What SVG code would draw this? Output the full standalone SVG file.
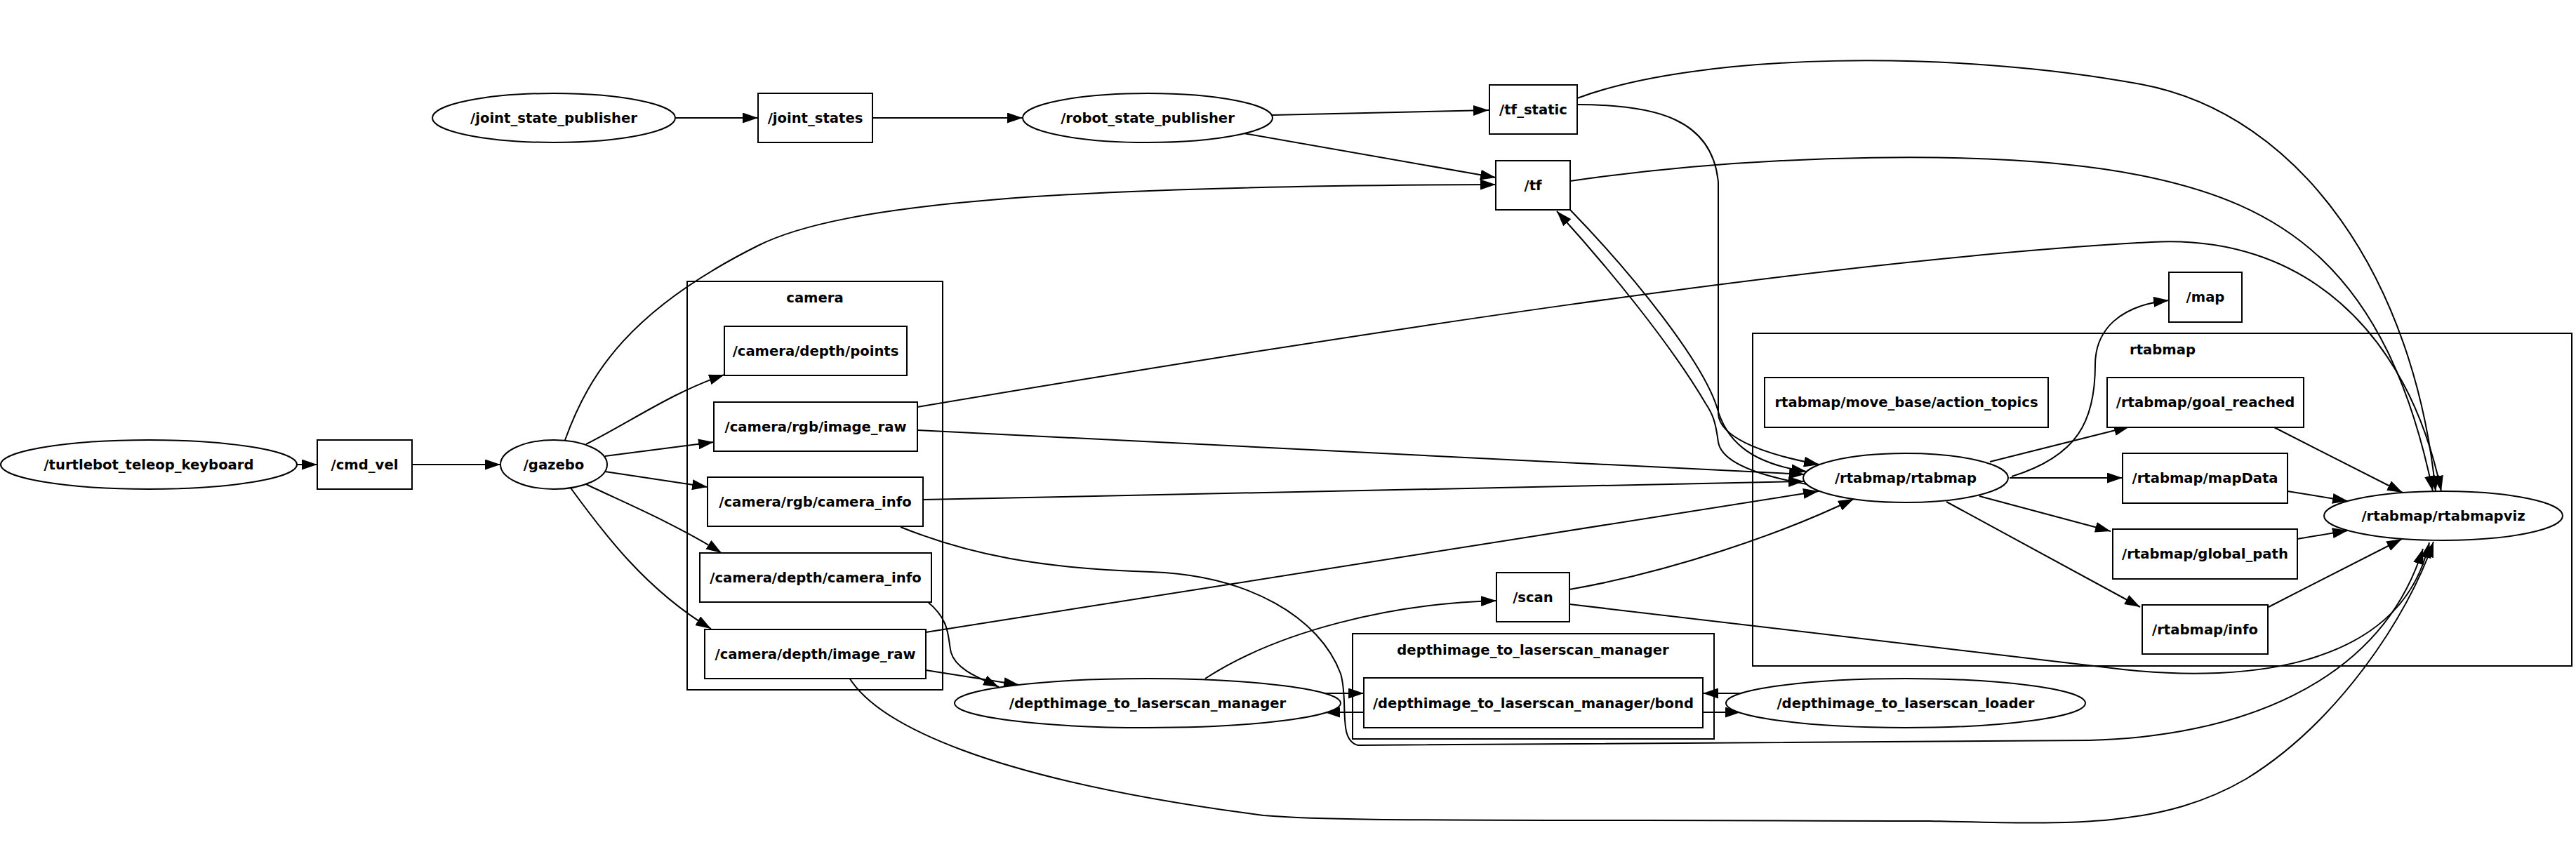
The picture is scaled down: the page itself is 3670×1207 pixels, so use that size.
<svg xmlns="http://www.w3.org/2000/svg" width="3670" height="1207" viewBox="0 0 3670 1207">
<defs>
<style>
.bg{fill:#fff}
.cl{fill:none;stroke:#000;stroke-width:2}
.nd{fill:#fff;stroke:#000;stroke-width:2}
.t{font-family:"DejaVu Sans",Verdana,sans-serif;font-weight:bold;font-size:19.6px;fill:#000;text-anchor:middle}
.e{fill:none;stroke:#000;stroke-width:2;marker-end:url(#ah)}
</style>
<marker id="ah" viewBox="0 0 22 15" refX="22" refY="7.5" markerUnits="userSpaceOnUse" markerWidth="22" markerHeight="15" orient="auto">
<path d="M0,0 L22,7.5 L0,15 z" fill="#000"/>
</marker>
</defs>
<rect class="bg" x="0" y="0" width="3670" height="1207"/>

<g id="clusters">
<g id="cluster_camera"><rect class="cl" x="979" y="401" width="364" height="582"/><text class="t" x="1161" y="431">camera</text></g>
<g id="cluster_dtl"><rect class="cl" x="1927" y="903" width="515" height="150"/><text class="t" x="2184" y="933">depthimage_to_laserscan_manager</text></g>
<g id="cluster_rtabmap"><rect class="cl" x="2497" y="475" width="1167" height="474"/><text class="t" x="3081" y="505">rtabmap</text></g>
</g>

<g id="connectors">
<path class="e" d="M423,662 L452,662"/>
<path class="e" d="M587,662 L713,662"/>
<path class="e" d="M962,168 L1080,168"/>
<path class="e" d="M1243,168 L1457,168"/>
<path class="e" d="M1812,164 L2121,157"/>
<path class="e" d="M1772,190 L2131,253"/>
<path class="e" d="M805,627 C840,530 900,440 1080,350 C1200,290 1500,265 2131,263"/>
<path class="e" d="M835,633 C900,600 960,558 1032,534"/>
<path class="e" d="M862,650 L1017,630"/>
<path class="e" d="M862,672 L1008,694"/>
<path class="e" d="M835,690 C880,712 960,745 1028,788"/>
<path class="e" d="M812,694 C860,760 920,840 1013,896"/>
<path class="e" d="M1307,613 L2571,676"/>
<path class="e" d="M1315,712 L2570,686"/>
<path class="e" d="M1319,901 L2591,700"/>
<path class="e" d="M1307,580 C1900,480 2600,370 3065,345 C3280,333 3430,470 3478,700"/>
<path class="e" d="M1283,751 C1380,790 1480,810 1640,815 C1780,820 1880,880 1910,960 C1922,1000 1905,1055 1935,1062 L2976,1055 C3180,1050 3390,980 3452,782"/>
<path class="e" d="M1322,858 C1355,885 1350,910 1355,930 C1362,955 1400,968 1423,979"/>
<path class="e" d="M1319,955 L1452,976"/>
<path class="e" d="M1210,966 C1250,1030 1400,1110 1800,1162 C1900,1170 2000,1168 2750,1170 C2950,1175 3080,1180 3200,1110 C3330,1030 3430,880 3467,772"/>
<path class="e" d="M1717,967 C1820,900 1980,860 2132,856"/>
<path class="e" d="M2236,840 C2380,815 2540,760 2641,711"/>
<path class="e" d="M2236,861 L3000,951 C3180,975 3420,960 3461,773"/>
<path class="e" d="M1887,988 L1943,988"/>
<path class="e" d="M1943,1015 L1887,1015"/>
<path class="e" d="M2480,988 L2426,988"/>
<path class="e" d="M2426,1015 L2480,1015"/>
<path class="e" d="M2237,299 C2330,395 2425,515 2446,580 C2458,625 2490,660 2574,672"/>
<path class="e" d="M2574,690 C2490,675 2452,655 2448,630 C2444,600 2440,590 2430,575 C2380,490 2290,380 2218,301"/>
<path class="e" d="M2247,149 C2360,149 2440,170 2448,260 L2448,590 C2450,620 2500,645 2592,662"/>
<path class="e" d="M2247,140 C2420,75 2780,70 3050,120 C3280,163 3440,400 3470,700"/>
<path class="e" d="M2237,258 C2500,220 2850,210 3050,250 C3250,290 3400,380 3466,700"/>
<path class="e" d="M2866,679 C2960,650 2985,600 2985,520 C2985,470 3020,435 3090,428"/>
<path class="e" d="M2835,658 L3034,608"/>
<path class="e" d="M2863,681 L3024,681"/>
<path class="e" d="M2820,707 L3007,757"/>
<path class="e" d="M2773,715 L3049,865"/>
<path class="e" d="M3240,609 L3423,702"/>
<path class="e" d="M3259,700 L3345,714"/>
<path class="e" d="M3273,768 L3345,756"/>
<path class="e" d="M3232,865 C3300,830 3380,790 3422,768"/>
</g>

<g id="n_turtlebot_teleop_keyboard"><ellipse class="nd" cx="212" cy="662" rx="211" ry="35"/><text class="t" x="212" y="669">/turtlebot_teleop_keyboard</text></g>
<g id="n_cmd_vel"><rect class="nd" x="452" y="627" width="135" height="70"/><text class="t" x="519.5" y="669">/cmd_vel</text></g>
<g id="n_gazebo"><ellipse class="nd" cx="789" cy="662" rx="76" ry="35"/><text class="t" x="789" y="669">/gazebo</text></g>
<g id="n_joint_state_publisher"><ellipse class="nd" cx="789" cy="168" rx="173" ry="35"/><text class="t" x="789" y="175">/joint_state_publisher</text></g>
<g id="n_joint_states"><rect class="nd" x="1080" y="133" width="163" height="70"/><text class="t" x="1161.5" y="175">/joint_states</text></g>
<g id="n_robot_state_publisher"><ellipse class="nd" cx="1635" cy="168" rx="178" ry="35"/><text class="t" x="1635" y="175">/robot_state_publisher</text></g>
<g id="n_tf_static"><rect class="nd" x="2122" y="121" width="125" height="70"/><text class="t" x="2184.5" y="163">/tf_static</text></g>
<g id="n_tf"><rect class="nd" x="2131" y="229" width="106" height="70"/><text class="t" x="2184" y="271">/tf</text></g>
<g id="n_camera_depth_points"><rect class="nd" x="1032" y="465" width="260" height="70"/><text class="t" x="1162" y="507">/camera/depth/points</text></g>
<g id="n_camera_rgb_image_raw"><rect class="nd" x="1017" y="573" width="290" height="70"/><text class="t" x="1162" y="615">/camera/rgb/image_raw</text></g>
<g id="n_camera_rgb_camera_info"><rect class="nd" x="1008" y="680" width="307" height="70"/><text class="t" x="1161.5" y="722">/camera/rgb/camera_info</text></g>
<g id="n_camera_depth_camera_info"><rect class="nd" x="997" y="788" width="330" height="70"/><text class="t" x="1162" y="830">/camera/depth/camera_info</text></g>
<g id="n_camera_depth_image_raw"><rect class="nd" x="1004" y="897" width="315" height="70"/><text class="t" x="1161.5" y="939">/camera/depth/image_raw</text></g>
<g id="n_scan"><rect class="nd" x="2132" y="816" width="104" height="70"/><text class="t" x="2184" y="858">/scan</text></g>
<g id="n_dtl_manager"><ellipse class="nd" cx="1635" cy="1002" rx="275" ry="35"/><text class="t" x="1635" y="1009">/depthimage_to_laserscan_manager</text></g>
<g id="n_dtl_bond"><rect class="nd" x="1943" y="966" width="483" height="71"/><text class="t" x="2184.5" y="1009">/depthimage_to_laserscan_manager/bond</text></g>
<g id="n_dtl_loader"><ellipse class="nd" cx="2715" cy="1002" rx="256" ry="35"/><text class="t" x="2715" y="1009">/depthimage_to_laserscan_loader</text></g>
<g id="n_rtabmap"><ellipse class="nd" cx="2715" cy="681" rx="146" ry="35"/><text class="t" x="2715" y="688">/rtabmap/rtabmap</text></g>
<g id="n_rtabmapviz"><ellipse class="nd" cx="3481" cy="735" rx="170" ry="35"/><text class="t" x="3481" y="742">/rtabmap/rtabmapviz</text></g>
<g id="n_map"><rect class="nd" x="3090" y="388" width="104" height="71"/><text class="t" x="3142" y="430">/map</text></g>
<g id="n_move_base_action_topics"><rect class="nd" x="2514" y="538" width="404" height="71"/><text class="t" x="2716" y="580">rtabmap/move_base/action_topics</text></g>
<g id="n_goal_reached"><rect class="nd" x="3002" y="538" width="280" height="71"/><text class="t" x="3142" y="580">/rtabmap/goal_reached</text></g>
<g id="n_mapData"><rect class="nd" x="3024" y="646" width="235" height="71"/><text class="t" x="3141.5" y="688">/rtabmap/mapData</text></g>
<g id="n_global_path"><rect class="nd" x="3010" y="754" width="263" height="71"/><text class="t" x="3141.5" y="796">/rtabmap/global_path</text></g>
<g id="n_info"><rect class="nd" x="3052" y="862" width="179" height="70"/><text class="t" x="3141.5" y="904">/rtabmap/info</text></g>
</svg>
